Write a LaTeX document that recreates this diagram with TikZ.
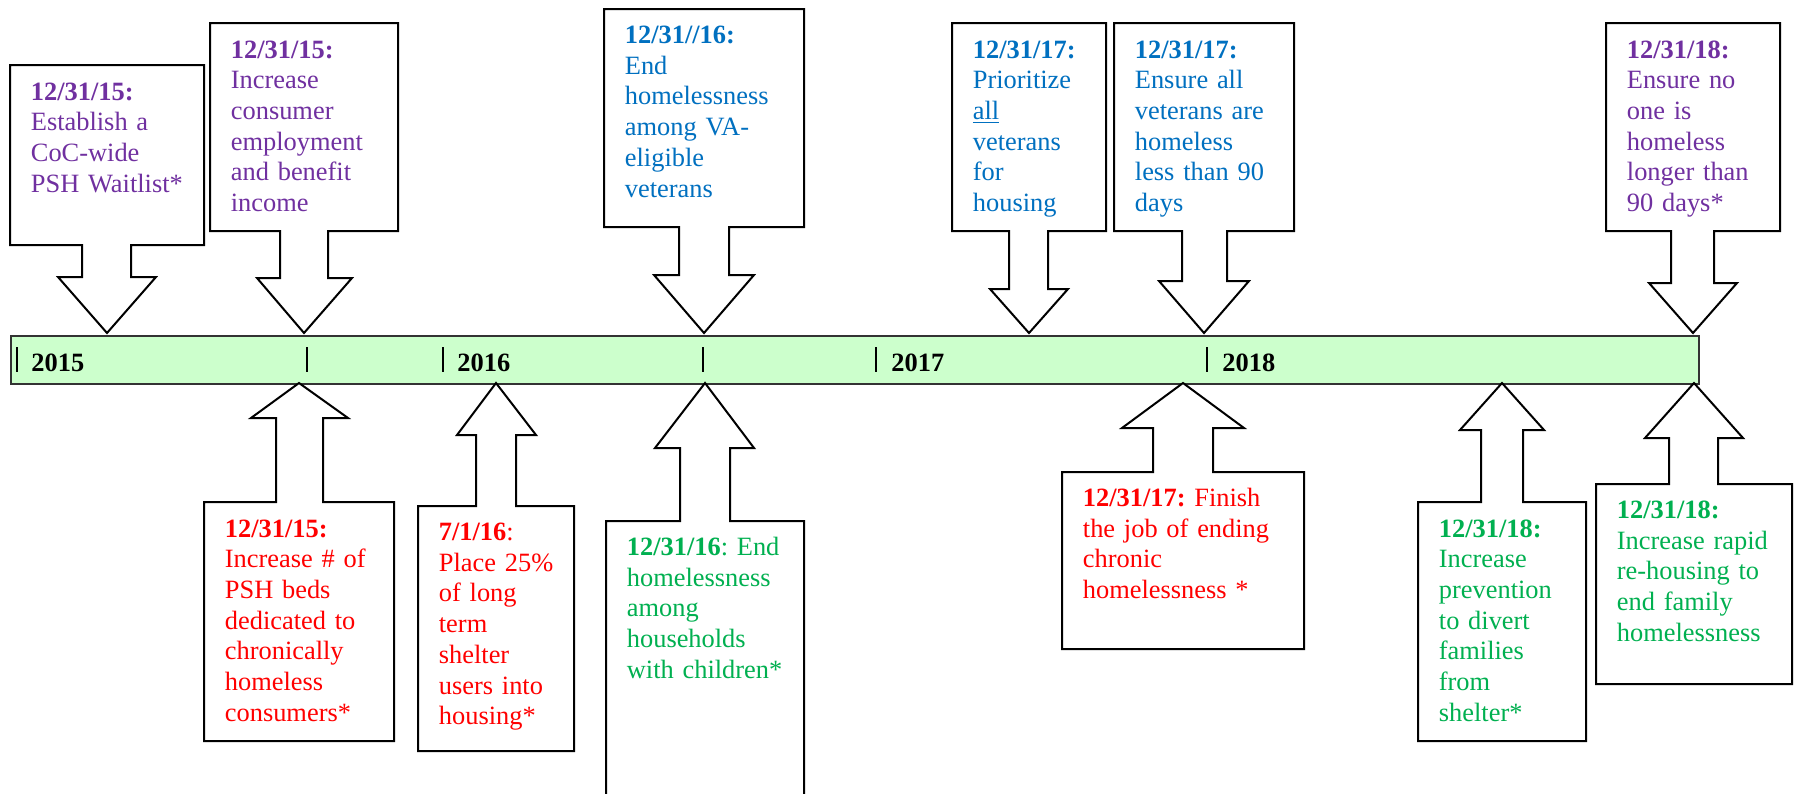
\documentclass[tikz,border=0pt]{standalone}
\usepackage{fontspec}
\setmainfont{Liberation Serif}
\frenchspacing
\definecolor{tlpurple}{HTML}{7030A0}
\definecolor{tlblue}{HTML}{0070C0}
\definecolor{tlred}{HTML}{FF0000}
\definecolor{tlgreen}{HTML}{00B050}
\definecolor{barfill}{HTML}{CCFFCC}
\begin{document}
\begin{tikzpicture}[x=0.5pt,y=-0.5pt,
  callout/.style={draw=black,line width=1pt,fill=white,line join=miter},
  txt/.style={anchor=base west,inner sep=0pt,text width=200pt,align=left,font=\fontsize{13.2}{15.35}\selectfont\frenchspacing},
  yeartxt/.style={anchor=base west,inner sep=0pt,font=\fontsize{13.2}{15.35}\selectfont\bfseries},
  tick/.style={draw=black,line width=1pt},
  bar/.style={draw=black!80,line width=0.8pt,fill=barfill}]
\useasboundingbox (0,0) rectangle (1794,793);

% timeline bar
\node[bar,inner sep=0pt,minimum width=844pt,minimum height=24pt,anchor=north west] (bar) at (10,335) {};

% ticks and years
\foreach \n/\x in {t1/17,t2/307,t3/443,t4/703,t5/876,t6/1207}{
  \coordinate (\n a) at (\x,347);
  \coordinate (\n b) at (\x,372);
  \draw[tick] (\n a) -- (\n b);
}
\node[yeartxt] (y2015) at (31,371) {2015};
\node[yeartxt] (y2016) at (457,371) {2016};
\node[yeartxt] (y2017) at (891,371) {2017};
\node[yeartxt] (y2018) at (1222,371) {2018};

% ---------- top callouts (arrows pointing down) ----------
% A
\draw[callout] (10,65) -- (204,65) -- (204,245) -- (131,245) -- (131,277) -- (156,277)
  -- (107,333) -- (58,277) -- (82,277) -- (82,245) -- (10,245) -- cycle;
\node[txt,text=tlpurple] (A) at (30.5,100) {\textbf{12/31/15:}\\Establish a\\CoC-wide\\PSH Waitlist*};
% B
\draw[callout] (210,23) -- (398,23) -- (398,231) -- (328,231) -- (328,278) -- (352,278)
  -- (304,333) -- (257,278) -- (280,278) -- (280,231) -- (210,231) -- cycle;
\node[txt,text=tlpurple] (B) at (230.5,58) {\textbf{12/31/15:}\\Increase\\consumer\\employment\\and benefit\\income};
% C
\draw[callout] (604,9) -- (804,9) -- (804,227) -- (729,227) -- (729,275) -- (754,275)
  -- (704,333) -- (654,275) -- (679,275) -- (679,227) -- (604,227) -- cycle;
\node[txt,text=tlblue] (C) at (624.5,43.5) {\textbf{12/31//16:}\\End\\homelessness\\among VA-\\eligible\\veterans};
% D
\draw[callout] (952,23) -- (1106,23) -- (1106,231) -- (1048,231) -- (1048,289) -- (1068,289)
  -- (1029,333) -- (990,289) -- (1009,289) -- (1009,231) -- (952,231) -- cycle;
\node[txt,text=tlblue] (D) at (972.5,58) {\textbf{12/31/17:}\\Prioritize\\\underline{all}\\veterans\\for\\housing};
% E
\draw[callout] (1114,23) -- (1294,23) -- (1294,231) -- (1227,231) -- (1227,281) -- (1249,281)
  -- (1204,333) -- (1159,281) -- (1182,281) -- (1182,231) -- (1114,231) -- cycle;
\node[txt,text=tlblue] (E) at (1134.5,58) {\textbf{12/31/17:}\\Ensure all\\veterans are\\homeless\\less than 90\\days};
% F
\draw[callout] (1606,23) -- (1780,23) -- (1780,231) -- (1714,231) -- (1714,283) -- (1737,283)
  -- (1693,333) -- (1649,283) -- (1671,283) -- (1671,231) -- (1606,231) -- cycle;
\node[txt,text=tlpurple] (F) at (1626.5,58) {\textbf{12/31/18:}\\Ensure no\\one is\\homeless\\longer than\\90 days*};

% ---------- bottom callouts (arrows pointing up) ----------
% G
\draw[callout] (299,383) -- (348,418) -- (323,418) -- (323,502) -- (394,502) -- (394,741)
  -- (204,741) -- (204,502) -- (276,502) -- (276,418) -- (251,418) -- cycle;
\node[txt,text=tlred] (G) at (224.5,537) {\textbf{12/31/15:}\\Increase \# of\\PSH beds\\dedicated to\\chronically\\homeless\\consumers*};
% H
\draw[callout] (496,383) -- (536,435) -- (516,435) -- (516,506) -- (574,506) -- (574,751)
  -- (418,751) -- (418,506) -- (476,506) -- (476,435) -- (457,435) -- cycle;
\node[txt,text=tlred] (H) at (438.5,540.5) {\textbf{7/1/16}:\\Place 25\%\\of long\\term\\shelter\\users into\\housing*};
% I (runs off the bottom edge)
\draw[callout] (606,805) -- (606,521) -- (680,521) -- (680,448) -- (655,448) -- (705,383)
  -- (754,448) -- (730,448) -- (730,521) -- (804,521) -- (804,805);
\node[txt,text=tlgreen] (I) at (626.5,555.5) {\textbf{12/31/16}: End\\homelessness\\among\\households\\with children*};
% J
\draw[callout] (1183,383) -- (1244,428) -- (1213,428) -- (1213,472) -- (1304,472) -- (1304,649)
  -- (1062,649) -- (1062,472) -- (1153,472) -- (1153,428) -- (1122,428) -- cycle;
\node[txt,text=tlred] (J) at (1082.5,506.5) {\textbf{12/31/17:} Finish\\the job of ending\\chronic\\homelessness *};
% K
\draw[callout] (1502,383) -- (1544,430) -- (1523,430) -- (1523,502) -- (1586,502) -- (1586,741)
  -- (1418,741) -- (1418,502) -- (1481,502) -- (1481,430) -- (1460,430) -- cycle;
\node[txt,text=tlgreen] (K) at (1438.5,537) {\textbf{12/31/18:}\\Increase\\prevention\\to divert\\families\\from\\shelter*};
% L
\draw[callout] (1694,383) -- (1743,438) -- (1718,438) -- (1718,484) -- (1792,484) -- (1792,684)
  -- (1596,684) -- (1596,484) -- (1669,484) -- (1669,438) -- (1645,438) -- cycle;
\node[txt,text=tlgreen] (L) at (1616.5,518.5) {\textbf{12/31/18:}\\Increase rapid\\re-housing to\\end family\\homelessness};
\end{tikzpicture}
\end{document}
